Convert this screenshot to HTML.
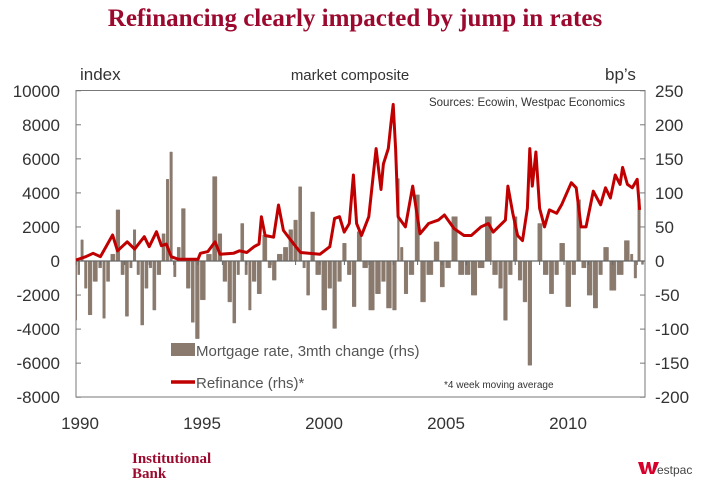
<!DOCTYPE html>
<html><head><meta charset="utf-8"><style>
body{margin:0;background:#fff;width:710px;height:487px;overflow:hidden;font-family:"Liberation Sans",sans-serif}
svg{display:block}
</style></head><body>
<svg id="c" width="710" height="487" viewBox="0 0 710 487">
<text x="355" y="26" text-anchor="middle" font-family="Liberation Serif,serif" font-weight="bold" font-size="25" fill="#9b0a2e">Refinancing clearly impacted by jump in rates</text>
<text x="80" y="80" font-size="17" fill="#333">index</text>
<text x="350" y="80" text-anchor="middle" font-size="15" fill="#333">market composite</text>
<text x="605" y="80" font-size="17" fill="#333">bp’s</text>
<rect x="76" y="90.5" width="569" height="306.5" fill="none" stroke="#777" stroke-width="1"/>
<text x="625" y="106" text-anchor="end" font-size="11.5" fill="#333">Sources: Ecowin, Westpac Economics</text>
<g id="bars"></g><g id="axes"></g><g id="line"></g>
<rect x="171" y="343" width="24" height="13" fill="#8a7a6e"/>
<text x="196" y="356" font-size="15" fill="#555">Mortgage rate, 3mth change (rhs)</text>
<line x1="171" y1="382" x2="195" y2="382" stroke="#c00000" stroke-width="3.5"/>
<text x="196" y="388" font-size="15" fill="#555">Refinance (rhs)*</text>
<text x="444" y="388" font-size="10" fill="#333">*4 week moving average</text>
<text x="132" y="463" font-family="Liberation Serif,serif" font-weight="bold" font-size="15" fill="#9b0a2e"><tspan x="132">Institutional</tspan><tspan x="132" dy="15">Bank</tspan></text>
<g><path d="M638 462h5l2 10 2-10h3l2 10 2-10h5l-5 12h-4l-2-7-2 7h-4z" fill="#d5002b"/><text x="657" y="474" font-size="12" fill="#444">estpac</text></g>
</svg>
<script>
const leftTicks=[10000,8000,6000,4000,2000,0,-2000,-4000,-6000,-8000];
const rightTicks=[250,200,150,100,50,0,-50,-100,-150,-200];
const yearTicks=[1990,1995,2000,2005,2010];
const mortDates=[1990.0,1990.1,1990.25,1990.4,1990.55,1990.8,1991.0,1991.15,1991.3,1991.5,1991.74,1991.9,1992.1,1992.25,1992.4,1992.55,1992.7,1992.9,1993.05,1993.2,1993.4,1993.6,1993.75,1993.9,1994.05,1994.2,1994.4,1994.6,1994.8,1994.95,1995.2,1995.45,1995.7,1995.9,1996.1,1996.3,1996.5,1996.65,1996.8,1997.0,1997.1,1997.3,1997.5,1997.75,1997.95,1998.1,1998.35,1998.6,1998.8,1999.0,1999.2,1999.35,1999.5,1999.7,1999.9,2000.2,2000.4,2000.6,2000.8,2001.0,2001.2,2001.4,2001.6,2001.85,2002.1,2002.4,2002.6,2002.8,2003.1,2003.2,2003.35,2003.5,2003.75,2004.0,2004.2,2004.5,2004.8,2005.0,2005.25,2005.5,2005.8,2006.05,2006.3,2006.6,2006.9,2007.2,2007.4,2007.6,2007.8,2008.0,2008.2,2008.4,2008.6,2008.8,2009.0,2009.25,2009.5,2009.7,2009.9,2010.2,2010.4,2010.6,2010.8,2011.05,2011.3,2011.5,2011.7,2012.0,2012.3,2012.6,2012.8,2012.9,2013.1,2013.2];
const mortValues=[-87,-20,31,-40,-79,-30,-10,-84,-30,10,75,-20,-81,-10,46,-20,-94,-40,-10,-72,-20,40,120,160,-23,20,77,-40,-90,-114,-57,10,124,40,-30,-60,-91,-20,55,-20,-72,-30,-48,38,-10,-28,10,20,46,60,109,-10,-50,72,-20,-72,-40,-99,-30,26,-20,-67,43,-10,-72,-48,-30,-69,-72,121,20,-48,-20,97,-60,-20,28,-38,-10,65,-20,-20,-50,-10,65,-20,-40,-87,-20,65,-28,-60,-153,0,55,-20,-48,-20,26,-67,-20,90,-10,-50,-69,-20,20,-43,-20,30,10,-25,91,-5];
const refiDates=[1990.0,1990.4,1990.7,1991.0,1991.5,1991.7,1992.1,1992.4,1992.8,1993.0,1993.3,1993.5,1993.7,1993.9,1994.2,1995.0,1995.1,1995.4,1995.7,1995.9,1996.45,1996.7,1997.0,1997.3,1997.5,1997.6,1997.75,1998.1,1998.3,1998.5,1998.9,1999.2,2000.0,2000.4,2000.6,2000.8,2000.99,2001.2,2001.37,2001.5,2001.7,2002.0,2002.3,2002.5,2002.6,2002.8,2002.9,2003.0,2003.1,2003.2,2003.5,2003.8,2004.1,2004.45,2004.85,2005.1,2005.5,2005.9,2006.2,2006.6,2006.9,2007.1,2007.6,2007.7,2007.9,2008.1,2008.3,2008.5,2008.6,2008.7,2008.85,2009.0,2009.2,2009.4,2009.7,2009.9,2010.3,2010.5,2010.7,2010.9,2011.2,2011.5,2011.7,2011.9,2012.1,2012.3,2012.4,2012.6,2012.8,2013.0,2013.1];
const refiValues=[60,250,450,250,1530,600,1130,700,1430,840,1720,900,1000,250,100,100,450,550,1130,400,450,600,500,840,1000,2600,1500,1400,3290,1800,1040,500,400,840,2500,2600,1700,2200,5050,2200,1500,2600,6600,4200,5700,6600,8000,9200,6600,2600,2000,4400,1600,2200,2400,2700,1900,1500,1500,2000,2200,1700,2400,4400,2800,1500,1200,3100,6600,4400,6400,3100,2000,3000,2800,3300,4600,4300,2000,2000,4100,3300,4300,3700,5050,4500,5500,4500,4300,4800,3000];
const NS='http://www.w3.org/2000/svg';
const X0=76,YR=24.4,Y0=261,PXBP=0.681;
const xs=t=>X0+(t-1990)*YR;
const yBp=v=>Y0-v*PXBP;
const yIdx=v=>Y0-v/40*PXBP;
function mk(tag,attrs,parent){const e=document.createElementNS(NS,tag);for(const k in attrs)e.setAttribute(k,attrs[k]);parent.appendChild(e);return e;}
const bars=document.getElementById('bars'),axes=document.getElementById('axes'),line=document.getElementById('line');
const n=mortDates.length;
let ad='M'+xs(mortDates[0]).toFixed(1)+' '+Y0;
for(let i=0;i<n;i++){
  const a=i?(xs(mortDates[i-1])+xs(mortDates[i]))/2:xs(mortDates[0]);
  const b=i<n-1?(xs(mortDates[i])+xs(mortDates[i+1]))/2:xs(mortDates[i])+2;
  const y=yBp(mortValues[i]).toFixed(1);
  ad+=' L'+(a+0.6).toFixed(1)+' '+Y0+' L'+(a+0.6).toFixed(1)+' '+y+' L'+(b-0.6).toFixed(1)+' '+y+' L'+(b-0.6).toFixed(1)+' '+Y0;
}
ad+=' Z';
const area=mk('path',{d:ad,fill:'#8a7a6e',stroke:'#8a7a6e','stroke-width':0.5},bars);


leftTicks.forEach(v=>{const y=yIdx(v);
  const t=mk('text',{x:60,y:y+6,'text-anchor':'end','font-size':17,fill:'#333'},axes);t.textContent=v;
  
  
  mk('line',{x1:76,x2:81,y1:y,y2:y,stroke:'#777'},axes);
});
rightTicks.forEach(v=>{const y=yBp(v);
  const t=mk('text',{x:655,y:y+6,'font-size':17,fill:'#333'},axes);t.textContent=v;
  
  
  mk('line',{x1:640,x2:645,y1:y,y2:y,stroke:'#777'},axes);
});
const zl=mk('line',{x1:76,x2:645,y1:Y0,y2:Y0,stroke:'#666','stroke-width':1.3},axes);


for(let yr=1990;yr<=2013;yr++){mk('line',{x1:xs(yr),x2:xs(yr),y1:Y0,y2:Y0+4,stroke:'#666'},axes);}
yearTicks.forEach(yr=>{const t=mk('text',{x:xs(yr)+4,y:429,'text-anchor':'middle','font-size':17,fill:'#333'},axes);t.textContent=yr;
  
  
});
const d=refiDates.map((t,i)=>(i?'L':'M')+xs(t).toFixed(1)+' '+yIdx(refiValues[i]).toFixed(1)).join(' ');
const p=mk('path',{d:d,fill:'none',stroke:'#c00000','stroke-width':3,'stroke-linejoin':'round'},line);


</script>
</body></html>
